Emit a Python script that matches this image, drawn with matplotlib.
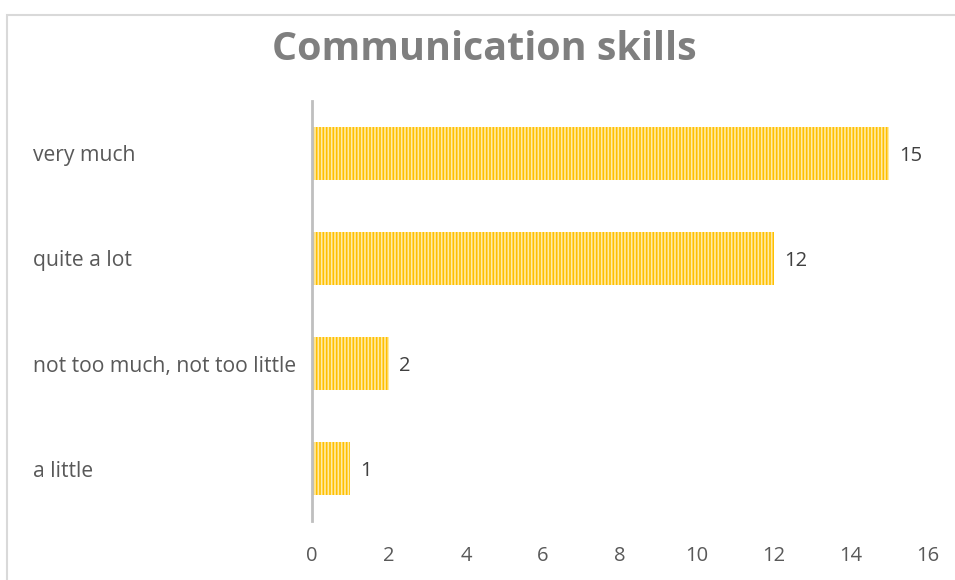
import matplotlib.pyplot as plt
from matplotlib.patches import Rectangle
from matplotlib.transforms import blended_transform_factory

categories = ['a little', 'not too much, not too little', 'quite a lot', 'very much']
counts = [1, 2, 12, 15]
xticks = [0, 2, 4, 6, 8, 10, 12, 14, 16]

plt.rcParams['font.family'] = ['Open Sans', 'DejaVu Sans']
plt.rcParams['hatch.color'] = '#FFEBA8'
plt.rcParams['hatch.linewidth'] = 1.2

fig = plt.figure(figsize=(9.55, 5.8), dpi=100)
ax = fig.add_axes([0.3267, 0.1017, 0.645, 0.7242])

pos = list(range(len(categories)))
ax.barh(pos, counts, height=0.5, color='#FFC000', edgecolor='#FFEBA8',
        linewidth=0, hatch='|||||')

for y, v in zip(pos, counts):
    ax.annotate(str(v), (v, y), xytext=(7, 0), textcoords='offset points',
                va='center_baseline', ha='left', fontsize=14.5, color='#404040')

ax.set_xlim(0, 16)
ax.set_ylim(-0.5, 3.5)
ax.set_xticks(xticks)
ax.set_xticklabels([str(t) for t in xticks], fontsize=14.5, color='#595959')
ax.tick_params(axis='x', length=0, pad=18)
ax.set_yticks([])

# category labels are left aligned at a fixed figure position
trans = blended_transform_factory(fig.transFigure, ax.transData)
for y, name in zip(pos, categories):
    ax.text(33 / 955, y, name, transform=trans, clip_on=False,
            fontsize=15.2, color='#595959', va='center_baseline', ha='left')

for side in ['top', 'right', 'bottom']:
    ax.spines[side].set_visible(False)
ax.spines['left'].set_color('#BFBFBF')
ax.spines['left'].set_linewidth(2)

fig.text(0.5075, 0.915, 'Communication skills', ha='center', va='center',
         fontsize=28.4, fontweight='bold', color='#7F7F7F')

# outer chart frame
fig.patches.append(Rectangle((7 / 955, -0.01), 1.0, 1 - 15 / 580 + 0.01,
                             transform=fig.transFigure, fill=False,
                             edgecolor='#D9D9D9', linewidth=1.5))

fig.savefig('out.png', dpi=100)
